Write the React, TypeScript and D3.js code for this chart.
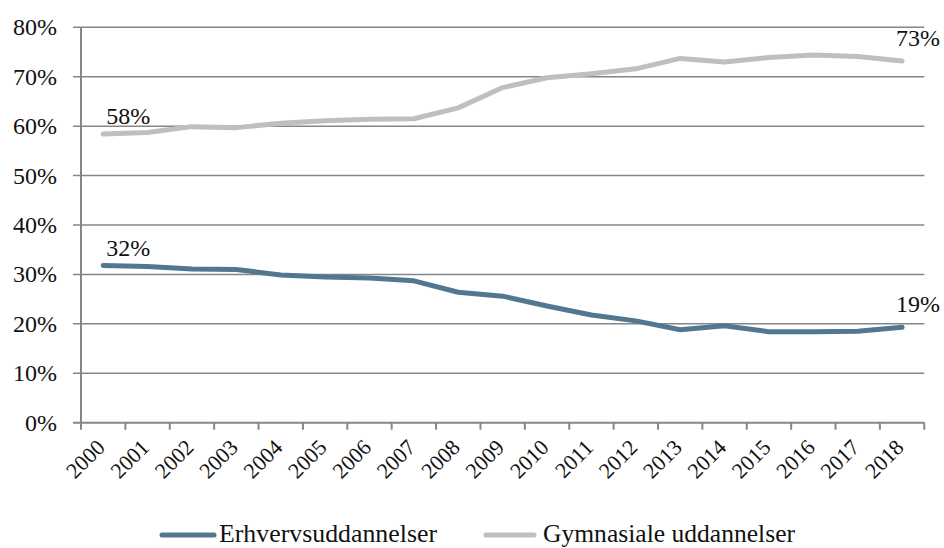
import React from "react";
import * as d3 from "d3";

const years = ["2000","2001","2002","2003","2004","2005","2006","2007","2008","2009","2010","2011","2012","2013","2014","2015","2016","2017","2018"];
const erhverv = [31.8,31.6,31.1,31.0,29.9,29.5,29.3,28.7,26.4,25.6,23.6,21.8,20.6,18.8,19.6,18.4,18.4,18.5,19.3];
const gymnasial = [58.4,58.7,59.9,59.7,60.6,61.1,61.4,61.5,63.7,67.8,69.8,70.6,71.6,73.7,73.0,73.9,74.4,74.1,73.2];
const yTicks = [0,10,20,30,40,50,60,70,80];
const seriesNames = ["Erhvervsuddannelser","Gymnasiale uddannelser"];
const colors = ["#51788F","#BFBFBF"];

const W = 944, H = 548;
const left = 81, right = 924.3, top = 27.3, bottom = 422.7;
const font = "Liberation Serif, DejaVu Serif, serif";
const gridColor = "#868686";
const ts = { fontFamily: font };

export default function App() {
  const x = d3.scaleBand<string>().domain(years).range([left, right]);
  const y = d3.scaleLinear().domain([0, 80]).range([bottom, top]);
  const cx = (yr: string) => (x(yr) as number) + x.bandwidth() / 2;
  const line = d3.line<number>().x((_, i) => cx(years[i])).y((d) => y(d)).curve(d3.curveLinear);
  const series = [erhverv, gymnasial];
  const last = years.length - 1;
  return (
    <svg width={W} height={H} style={{ position: "absolute", left: 0, top: 0, background: "#fff", fontFamily: font }}>
      {yTicks.map((t) => (
        <g key={t}>
          <line x1={left - 8} x2={right} y1={y(t)} y2={y(t)} stroke={gridColor} strokeWidth={t === 0 ? 2 : 1.5} />
          <text x={57} y={y(t) + 8} textAnchor="end" fontSize={24} fill="#111" style={ts}>{t + "%"}</text>
        </g>
      ))}
      <line x1={left} x2={left} y1={top} y2={bottom} stroke={gridColor} strokeWidth={2} />
      {[...years.map((yr) => x(yr) as number), right].map((xx, i) => (
        <line key={i} x1={xx} x2={xx} y1={bottom} y2={bottom + 7} stroke={gridColor} strokeWidth={2} />
      ))}
      {years.map((yr) => (
        <text key={yr} transform={`translate(${cx(yr) + 3},${bottom + 26}) rotate(-45)`} textAnchor="end" fontSize={22} fill="#111" style={ts}>{yr}</text>
      ))}
      {series.map((s, i) => (
        <path key={i} d={line(s) || ""} fill="none" stroke={colors[i]} strokeWidth={5} strokeLinecap="round" strokeLinejoin="round" />
      ))}
      {series.map((s, i) => (
        <g key={"l" + i}>
          <text x={cx(years[0]) + 3} y={y(s[0]) - 10} fontSize={24} fill="#111" style={ts}>{Math.round(s[0]) + "%"}</text>
          <text x={cx(years[last]) - 6} y={y(s[last]) - 15} fontSize={24} fill="#111" style={ts}>{Math.round(s[last]) + "%"}</text>
        </g>
      ))}
      <line x1={162} x2={214} y1={535} y2={535} stroke={colors[0]} strokeWidth={5} strokeLinecap="round" />
      <text x={219} y={542} fontSize={24.5} fill="#111" style={ts} textLength={218} lengthAdjust="spacingAndGlyphs">{seriesNames[0]}</text>
      <line x1={486} x2={534} y1={535} y2={535} stroke={colors[1]} strokeWidth={5} strokeLinecap="round" />
      <text x={543} y={542} fontSize={24.5} fill="#111" style={ts} textLength={252} lengthAdjust="spacingAndGlyphs">{seriesNames[1]}</text>
    </svg>
  );
}
